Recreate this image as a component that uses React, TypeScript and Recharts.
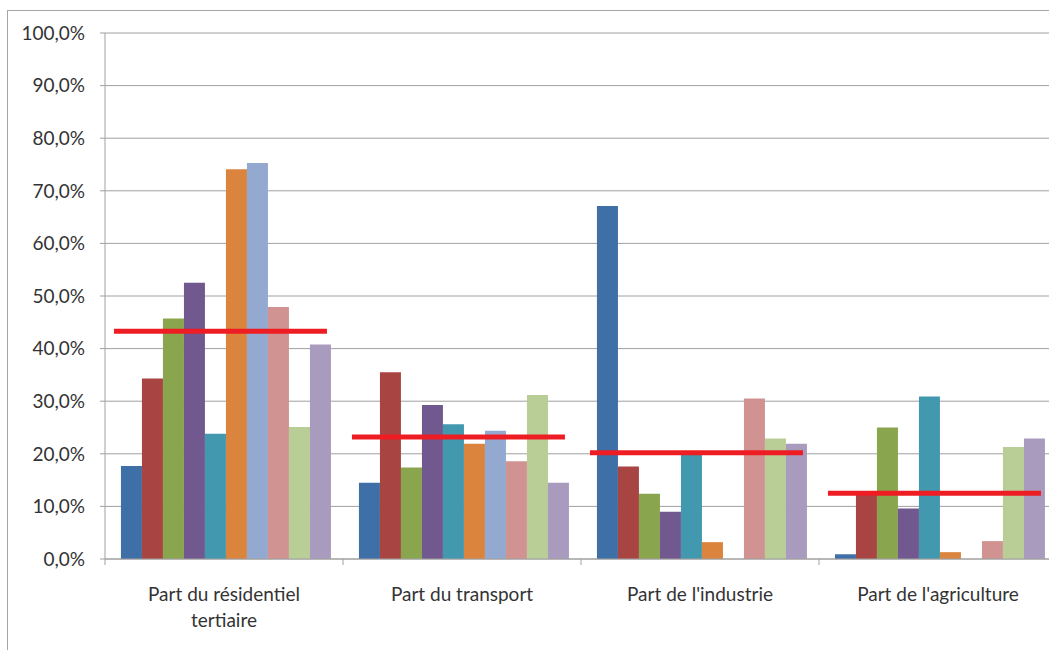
import { Bar, BarChart, CartesianGrid, Text, XAxis, YAxis } from "recharts";

const categories = [
  "Part du résidentiel tertiaire",
  "Part du transport",
  "Part de l'industrie",
  "Part de l'agriculture",
];

// one array per series, one value per category (in %)
const seriesValues = [
  [17.7, 14.5, 67.1, 0.9],
  [34.3, 35.5, 17.6, 12.6],
  [45.7, 17.4, 12.4, 25.0],
  [52.5, 29.3, 9.0, 9.6],
  [23.8, 25.6, 19.8, 30.9],
  [74.1, 21.9, 3.2, 1.3],
  [75.3, 24.4, 0, 0],
  [47.9, 18.6, 30.5, 3.4],
  [25.1, 31.2, 22.9, 21.3],
  [40.8, 14.5, 21.9, 22.9],
];

// red marker per category
const averages = [43.3, 23.2, 20.2, 12.5];

const yTicks = [0, 10, 20, 30, 40, 50, 60, 70, 80, 90, 100];

const colors = [
  "#3E6FA6",
  "#A84543",
  "#89A54E",
  "#71588F",
  "#4198AF",
  "#DB843D",
  "#93A9CF",
  "#D19392",
  "#B9CD96",
  "#A99BBD",
];

const data = categories.map((name, i) => {
  const row: Record<string, string | number> = { name, avg: averages[i] };
  seriesValues.forEach((vals, s) => {
    row[`s${s}`] = vals[i];
  });
  return row;
});

const FONT = "Lato, 'Open Sans', sans-serif";
const AXIS = "#A0A0A0";

function CategoryTick(props: any) {
  const { x, y, payload, index, visibleTicksCount } = props;
  const half = payload.offset ?? 0;
  return (
    <g>
      <line x1={x - half} y1={y} x2={x - half} y2={y + 6} stroke={AXIS} />
      {index === visibleTicksCount - 1 && (
        <line x1={x + half} y1={y} x2={x + half} y2={y + 6} stroke={AXIS} />
      )}
      <Text
        x={x}
        y={y + 29}
        width={172}
        textAnchor="middle"
        verticalAnchor="start"
        lineHeight={26}
        fontSize={19}
        fontFamily={FONT}
        style={{ fontSize: 19, fontFamily: FONT }}
        fill="#333"
      >
        {payload.value}
      </Text>
    </g>
  );
}

function AvgMark(props: any) {
  const { x, y, width } = props;
  if (y == null) return null;
  return (
    <line x1={x - 7} y1={y} x2={x + width} y2={y} stroke="#EE1D23" strokeWidth={5} />
  );
}

export default function App() {
  return (
    <div
      style={{
        position: "fixed",
        left: 0,
        top: 0,
        width: 1049,
        height: 650,
        overflow: "hidden",
        background: "#fff",
      }}
    >
      <div
        style={{
          position: "absolute",
          left: 7,
          top: 10,
          width: 1100,
          height: 700,
          borderLeft: "1px solid #A6A6A6",
          borderTop: "1px solid #A6A6A6",
        }}
      />
      <div style={{ position: "absolute", left: 0, top: 0 }}>
        <BarChart
          width={1060}
          height={650}
          data={data}
          margin={{ top: 33, right: 3, bottom: 31, left: 0 }}
          barCategoryGap="6.7%"
          barGap={0}
        >
          <CartesianGrid vertical={false} stroke={AXIS} />
          <XAxis
            dataKey="name"
            height={60}
            stroke={AXIS}
            tickLine={false}
            tickSize={0}
            tickMargin={0}
            tick={<CategoryTick />}
            interval={0}
          />
          <XAxis xAxisId="avg" dataKey="name" hide />
          <YAxis
            width={105}
            domain={[0, 100]}
            ticks={yTicks}
            stroke={AXIS}
            tickSize={5}
            tickMargin={15}
            tickFormatter={(v: number) => v.toFixed(1).replace(".", ",") + "%"}
            tick={{ fontSize: 19, fontFamily: FONT, fill: "#333" }}
          />
          {seriesValues.map((_, s) => (
            <Bar key={s} dataKey={`s${s}`} fill={colors[s]} isAnimationActive={false} />
          ))}
          <Bar
            xAxisId="avg"
            dataKey="avg"
            shape={<AvgMark />}
            isAnimationActive={false}
          />
        </BarChart>
      </div>
    </div>
  );
}
